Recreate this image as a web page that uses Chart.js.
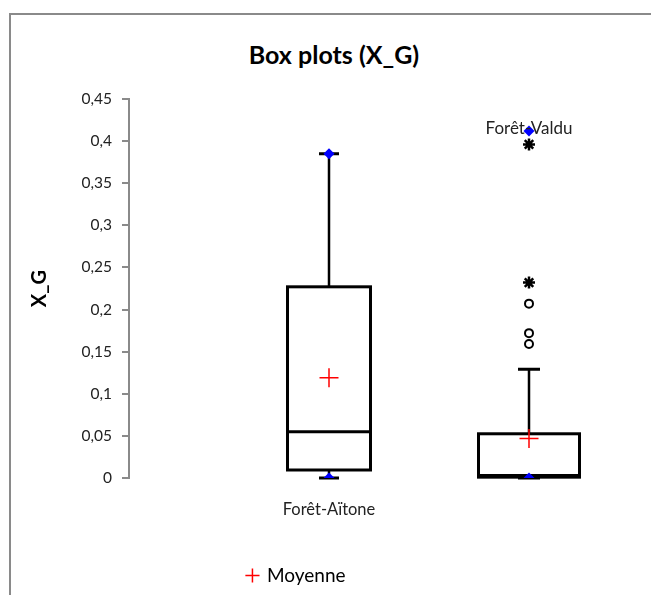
<!DOCTYPE html>
<html lang="fr">
<head>
    <meta charset="UTF-8">
    <title>Box plots (X_G)</title>
    <script src="https://cdn.jsdelivr.net/npm/chart.js@4.4.1/dist/chart.umd.min.js"></script>
    <style>
        body { margin: 0; background: #fff; font-family: Lato, sans-serif; }
        #frame {
            position: absolute; left: 9px; top: 13px; width: 700px; height: 700px;
            border-top: 2px solid #8a8a8a; border-left: 2px solid #8a8a8a;
        }
        #title {
            position: absolute; left: 0; top: 39px; width: 668px; text-align: center;
            font: bold 25px Lato, sans-serif; color: #000;
        }
        #wrap { position: absolute; left: 0; top: 0; width: 651px; height: 595px; }
    </style>
</head>
<body>
    <div id="frame"></div>
    <div id="title">Box plots (X_G)</div>
    <div id="wrap"><canvas id="chart" width="651" height="595"></canvas></div>

    <script>
        // data
        const categories = ['Forêt-Aïtone', 'Forêt-Valdu'];
        const minimum    = [0, 0];
        const q1         = [0.0095, 0.001];
        const median     = [0.055, 0.003];
        const q3         = [0.227, 0.0525];
        const whiskerLo  = [0, 0];
        const whiskerHi  = [0.385, 0.129];
        const maximum    = [0.385, 0.412];
        const means      = [0.119, 0.047];
        // outliers (circles) and extreme values (stars), per category
        const outliers   = [[], [0.207, 0.172, 0.159]];
        const extremes   = [[], [0.232, 0.396]];
        const yTicks     = [0, 0.05, 0.1, 0.15, 0.2, 0.25, 0.3, 0.35, 0.4, 0.45];

        const boxWidth = [0.415, 0.505];   // in x units
        const capWidth = [0.1, 0.11];

        const fmt = v => String(Math.round(v * 100) / 100).replace('.', ',');

        const boxPlugin = {
            id: 'boxes',
            beforeDatasetsDraw(chart) {
                const { ctx, scales: { x, y } } = chart;
                ctx.save();
                ctx.strokeStyle = '#000';
                categories.forEach((c, i) => {
                    const cx = x.getPixelForValue(i + 1);
                    const half = (x.getPixelForValue(i + 1 + boxWidth[i] / 2) - cx);
                    const capHalf = (x.getPixelForValue(i + 1 + capWidth[i] / 2) - cx);
                    const yq1 = y.getPixelForValue(q1[i]);
                    const yq3 = y.getPixelForValue(q3[i]);
                    const ymed = y.getPixelForValue(median[i]);
                    const ylo = y.getPixelForValue(whiskerLo[i]);
                    const yhi = y.getPixelForValue(whiskerHi[i]);
                    // whiskers
                    ctx.lineWidth = 2.5;
                    ctx.beginPath();
                    ctx.moveTo(cx, yq3); ctx.lineTo(cx, yhi);
                    ctx.moveTo(cx, yq1); ctx.lineTo(cx, ylo);
                    ctx.stroke();
                    ctx.lineWidth = 3;
                    ctx.beginPath();
                    ctx.moveTo(cx - capHalf, yhi); ctx.lineTo(cx + capHalf, yhi);
                    ctx.moveTo(cx - capHalf, ylo); ctx.lineTo(cx + capHalf, ylo);
                    ctx.stroke();
                    // box
                    ctx.fillStyle = '#fff';
                    ctx.fillRect(cx - half, yq3, half * 2, yq1 - yq3);
                    ctx.strokeRect(cx - half, yq3, half * 2, yq1 - yq3);
                    ctx.beginPath();
                    ctx.moveTo(cx - half, ymed); ctx.lineTo(cx + half, ymed);
                    ctx.stroke();
                });
                ctx.restore();
            },
            afterDatasetsDraw(chart) {
                const { ctx, scales: { x, y } } = chart;
                ctx.save();
                ctx.fillStyle = '#222';
                ctx.font = '16.5px Lato, sans-serif';
                ctx.textAlign = 'center';
                ctx.textBaseline = 'middle';
                // first label sits under the plot, second next to its maximum
                ctx.fillText(categories[0], x.getPixelForValue(1), y.getPixelForValue(0) + 32);
                ctx.font = '17px Lato, sans-serif';
                ctx.fillText(categories[1], x.getPixelForValue(2), y.getPixelForValue(maximum[1]) - 2);
                ctx.restore();
            }
        };

        new Chart(document.getElementById('chart'), {
            type: 'scatter',
            data: {
                datasets: [
                    {
                        label: 'Moyenne',
                        data: means.map((v, i) => ({ x: i + 1, y: v })),
                        pointStyle: 'cross',
                        radius: 9.5,
                        borderColor: '#ff0000',
                        backgroundColor: '#ff0000',
                        borderWidth: 1.5
                    },
                    {
                        label: 'minmax',
                        data: minimum.flatMap((v, i) => [{ x: i + 1, y: v }, { x: i + 1, y: maximum[i] }]),
                        pointStyle: 'rectRot',
                        radius: 5.5,
                        borderWidth: 0,
                        backgroundColor: '#0000ff'
                    },
                    {
                        label: 'outliers',
                        data: outliers.flatMap((arr, i) => arr.map(v => ({ x: i + 1, y: v }))),
                        pointStyle: 'circle',
                        radius: 4,
                        borderWidth: 2,
                        borderColor: '#000',
                        backgroundColor: '#fff'
                    },
                    {
                        label: 'extremes',
                        data: extremes.flatMap((arr, i) => arr.map(v => ({ x: i + 1, y: v }))),
                        pointStyle: 'star',
                        radius: 6,
                        borderWidth: 2.5,
                        borderColor: '#000'
                    }
                ]
            },
            options: {
                responsive: false,
                animation: false,
                layout: { padding: { left: 0, right: 58, top: 99, bottom: 0 } },
                plugins: {
                    tooltip: { enabled: false },
                    title: { display: false },
                    legend: {
                        position: 'bottom',
                        labels: {
                            filter: item => item.datasetIndex === 0,
                            usePointStyle: true,
                            pointStyle: 'cross',
                            boxWidth: 10,
                            boxHeight: 10,
                            padding: 8,
                            color: '#000',
                            font: { family: 'Lato', size: 19 }
                        }
                    }
                },
                scales: {
                    x: {
                        type: 'linear',
                        min: 0,
                        max: 2.32,
                        grid: { display: false },
                        border: { display: false },
                        ticks: { display: false },
                        afterFit: s => { s.height = 80; }
                    },
                    y: {
                        min: 0,
                        max: 0.45,
                        afterBuildTicks: s => { s.ticks = yTicks.map(v => ({ value: v })); },
                        afterFit: s => { s.width = 129; },
                        grid: {
                            drawOnChartArea: false,
                            drawTicks: true,
                            tickLength: 7,
                            color: '#8a8a8a',
                            lineWidth: 2
                        },
                        border: { color: '#8a8a8a', width: 2 },
                        ticks: {
                            padding: 10,
                            color: '#222',
                            font: { family: 'Lato', size: 15.5 },
                            callback: v => fmt(v)
                        },
                        title: {
                            display: true,
                            text: 'X_G',
                            color: '#000',
                            font: { family: 'Lato', size: 20, weight: 'bold' },
                            padding: { top: 28 }
                        }
                    }
                }
            },
            plugins: [boxPlugin]
        });
    </script>
</body>
</html>
